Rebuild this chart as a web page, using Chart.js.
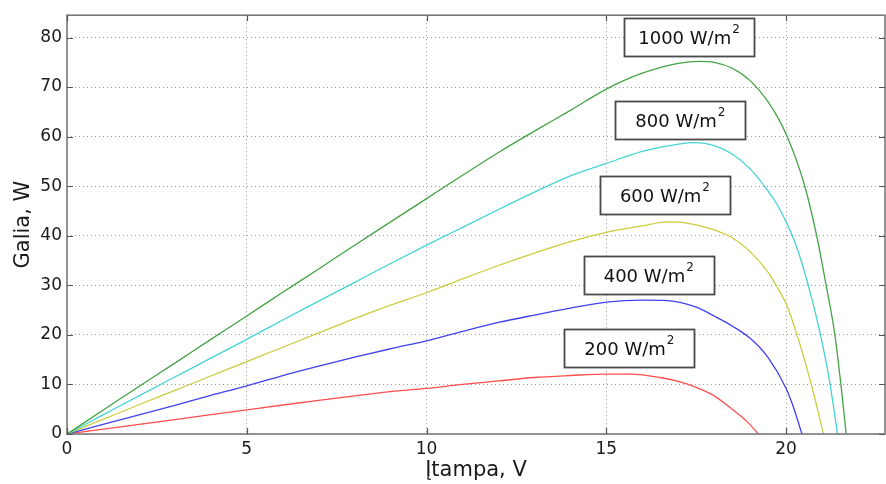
<!DOCTYPE html>
<html>
<head>
<meta charset="utf-8">
<script src="https://cdn.jsdelivr.net/npm/chart.js@4.4.1/dist/chart.umd.min.js"></script>
<style>
  html, body { margin: 0; padding: 0; background: #fff; }
  #wrap { width: 886px; height: 484px; }
</style>
</head>
<body>
<div id="wrap"><canvas id="c" width="886" height="484"></canvas></div>
<script>
// ---- data ----
const seriesNames = ['1000 W/m', '800 W/m', '600 W/m', '400 W/m', '200 W/m'];

const v1000 = [0, 1, 2, 3, 4, 5, 6, 7, 8, 9, 10, 11, 12, 13, 14, 15, 16, 17, 17.6, 18, 18.5, 19, 19.5, 20, 20.5, 20.85, 21.1, 21.35, 21.52, 21.67];
const p1000 = [0, 4.8, 9.6, 14.3, 19.1, 23.8, 28.6, 33.3, 38.1, 42.8, 47.5, 52.2, 56.8, 61.1, 65.3, 69.6, 72.8, 74.8, 75.2, 75.0, 73.8, 71.3, 67.0, 60.5, 50.5, 40.0, 30.5, 20.3, 10.2, 0];

const v800 = [0, 1, 2, 3, 4, 5, 6, 7, 8, 9, 10, 11, 12, 13, 14, 15, 16, 17, 17.5, 18, 18.5, 19, 19.5, 19.75, 20, 20.25, 20.5, 20.75, 21, 21.2, 21.43];
const p800 = [0, 3.85, 7.7, 11.5, 15.3, 19.1, 23.0, 26.8, 30.6, 34.4, 38.1, 41.7, 45.3, 48.8, 52.1, 54.6, 57.0, 58.5, 58.8, 58.2, 56.5, 53.5, 49.0, 46.3, 42.8, 38.6, 33.0, 26.3, 18.5, 11.0, 0];

const v600 = [0, 1, 2, 3, 4, 5, 6, 7, 8, 9, 10, 11, 12, 13, 14, 15, 16, 16.7, 17.2, 18, 18.5, 19, 19.5, 19.75, 20, 20.3, 20.7, 21.04];
const p600 = [0, 2.95, 5.9, 8.8, 11.7, 14.6, 17.5, 20.4, 23.3, 26.0, 28.5, 31.3, 34.0, 36.5, 38.8, 40.7, 42.0, 42.8, 42.6, 41.2, 39.6, 36.8, 32.6, 29.6, 26.3, 20.1, 10.0, 0];

const v400 = [0, 1, 2, 3, 4, 5, 6, 7, 8, 9, 10, 11, 12, 13, 14, 15, 16, 16.7, 17.5, 18, 18.5, 19, 19.5, 20, 20.2, 20.44];
const p400 = [0, 1.95, 3.85, 5.8, 7.8, 9.7, 11.8, 13.7, 15.5, 17.2, 18.8, 20.7, 22.5, 24.0, 25.4, 26.6, 27.0, 26.9, 25.6, 23.8, 21.8, 19.3, 15.4, 9.2, 5.5, 0];

const v200 = [0, 1, 2, 3, 4, 5, 6, 7, 8, 9, 10, 11, 12, 13, 14, 15, 15.7, 16.5, 17, 17.5, 18, 18.5, 18.9, 19.23];
const p200 = [0, 0.97, 1.93, 2.9, 3.9, 4.87, 5.85, 6.8, 7.7, 8.55, 9.2, 10.0, 10.7, 11.4, 11.8, 12.1, 12.1, 11.4, 10.6, 9.4, 7.7, 5.0, 2.6, 0];

// label anchors (box centres, in data units: volts / watts)
const labelVolts = [17.30, 17.06, 16.63, 16.18, 15.64];
const labelWatts = [80.2, 63.4, 48.3, 32.0, 17.3];

const xTicks = [0, 5, 10, 15, 20];
const yTicks = [0, 10, 20, 30, 40, 50, 60, 70, 80];
const xMax = 22.75;
const yMax = 84.5;

const xTitle = 'Įtampa, V';
const yTitle = 'Galia, W';

// ---- build ----
const allV = [v1000, v800, v600, v400, v200];
const allP = [p1000, p800, p600, p400, p200];
const colors = ['#45a345', '#44d4d4', '#cccc3c', '#4040f5', '#ff4e4e'];

const datasets = allV.map((vs, i) => ({
  label: seriesNames[i] + '2',
  data: vs.map((v, k) => ({ x: v, y: allP[i][k] })),
  borderColor: colors[i],
  backgroundColor: colors[i],
  borderWidth: 1.3,
  pointRadius: 0,
  showLine: true,
  fill: false,
  cubicInterpolationMode: 'monotone'
}));

const FONT = 'DejaVu Sans';

const frame = {
  id: 'frame',
  afterDatasetsDraw(chart) {
    const { ctx, chartArea: a, scales: { x, y } } = chart;
    ctx.save();
    ctx.strokeStyle = '#7a7a7a';
    ctx.lineWidth = 1.6;
    ctx.setLineDash([]);
    ctx.strokeRect(a.left, a.top, a.right - a.left, a.bottom - a.top);
    const tl = 6;
    ctx.strokeStyle = '#555';
    ctx.lineWidth = 1.2;
    ctx.beginPath();
    xTicks.forEach(t => {
      const px = Math.round(x.getPixelForValue(t)) + 0.5;
      ctx.moveTo(px, a.bottom); ctx.lineTo(px, a.bottom - tl);
      ctx.moveTo(px, a.top); ctx.lineTo(px, a.top + tl);
    });
    yTicks.forEach(t => {
      const py = Math.round(y.getPixelForValue(t)) + 0.5;
      ctx.moveTo(a.left, py); ctx.lineTo(a.left + tl, py);
      ctx.moveTo(a.right, py); ctx.lineTo(a.right - tl, py);
    });
    ctx.stroke();

    // labelled boxes
    const bw = 130, bh = 38;
    labelVolts.forEach((v, i) => {
      const cx = x.getPixelForValue(v);
      const cy = y.getPixelForValue(labelWatts[i]);
      ctx.fillStyle = '#fff';
      ctx.fillRect(cx - bw / 2, cy - bh / 2, bw, bh);
      ctx.strokeStyle = '#4a4a4a';
      ctx.lineWidth = 1.8;
      ctx.strokeRect(Math.round(cx - bw / 2) + 0.5, Math.round(cy - bh / 2) + 0.5, bw, bh);
      ctx.font = '18px "' + FONT + '"';
      const main = seriesNames[i];
      const mw = ctx.measureText(main).width;
      ctx.font = '12px "' + FONT + '"';
      const sw = ctx.measureText('2').width;
      const total = mw + sw + 1;
      const sx = cx - total / 2;
      ctx.fillStyle = '#111';
      ctx.textBaseline = 'alphabetic';
      ctx.textAlign = 'left';
      ctx.font = '18px "' + FONT + '"';
      ctx.fillText(main, sx, cy + 7);
      ctx.font = '12px "' + FONT + '"';
      ctx.fillText('2', sx + mw + 1, cy - 4);
    });
    ctx.restore();
  }
};

new Chart(document.getElementById('c'), {
  type: 'scatter',
  data: { datasets },
  options: {
    responsive: false,
    animation: false,
    devicePixelRatio: 1,
    layout: { padding: { left: 0, top: 14, right: 1, bottom: 0 } },
    plugins: { legend: { display: false }, tooltip: { enabled: false } },
    scales: {
      x: {
        type: 'linear',
        min: 0, max: xMax,
        afterBuildTicks: s => { s.ticks = xTicks.map(v => ({ value: v })); },
        afterFit: s => { s.height = 50; },
        ticks: { color: '#1a1a1a', font: { family: FONT, size: 17 }, padding: 5, maxRotation: 0, autoSkip: false },
        grid: { color: '#9a9a9a', lineWidth: 1, drawTicks: false },
        border: { display: false, dash: [1, 3] },
        title: { display: true, text: xTitle, color: '#1a1a1a', font: { family: FONT, size: 21 }, padding: { top: 0, bottom: 1 } }
      },
      y: {
        type: 'linear',
        min: 0, max: yMax,
        afterBuildTicks: s => { s.ticks = yTicks.map(v => ({ value: v })); },
        afterFit: s => { s.width = 67; },
        ticks: { color: '#1a1a1a', font: { family: FONT, size: 17 }, padding: 5, autoSkip: false },
        grid: { color: '#9a9a9a', lineWidth: 1, drawTicks: false },
        border: { display: false, dash: [1, 3] },
        title: { display: true, text: yTitle, color: '#1a1a1a', font: { family: FONT, size: 21 }, padding: { top: 11, bottom: 0 } }
      }
    }
  },
  plugins: [frame]
});
</script>
</body>
</html>
